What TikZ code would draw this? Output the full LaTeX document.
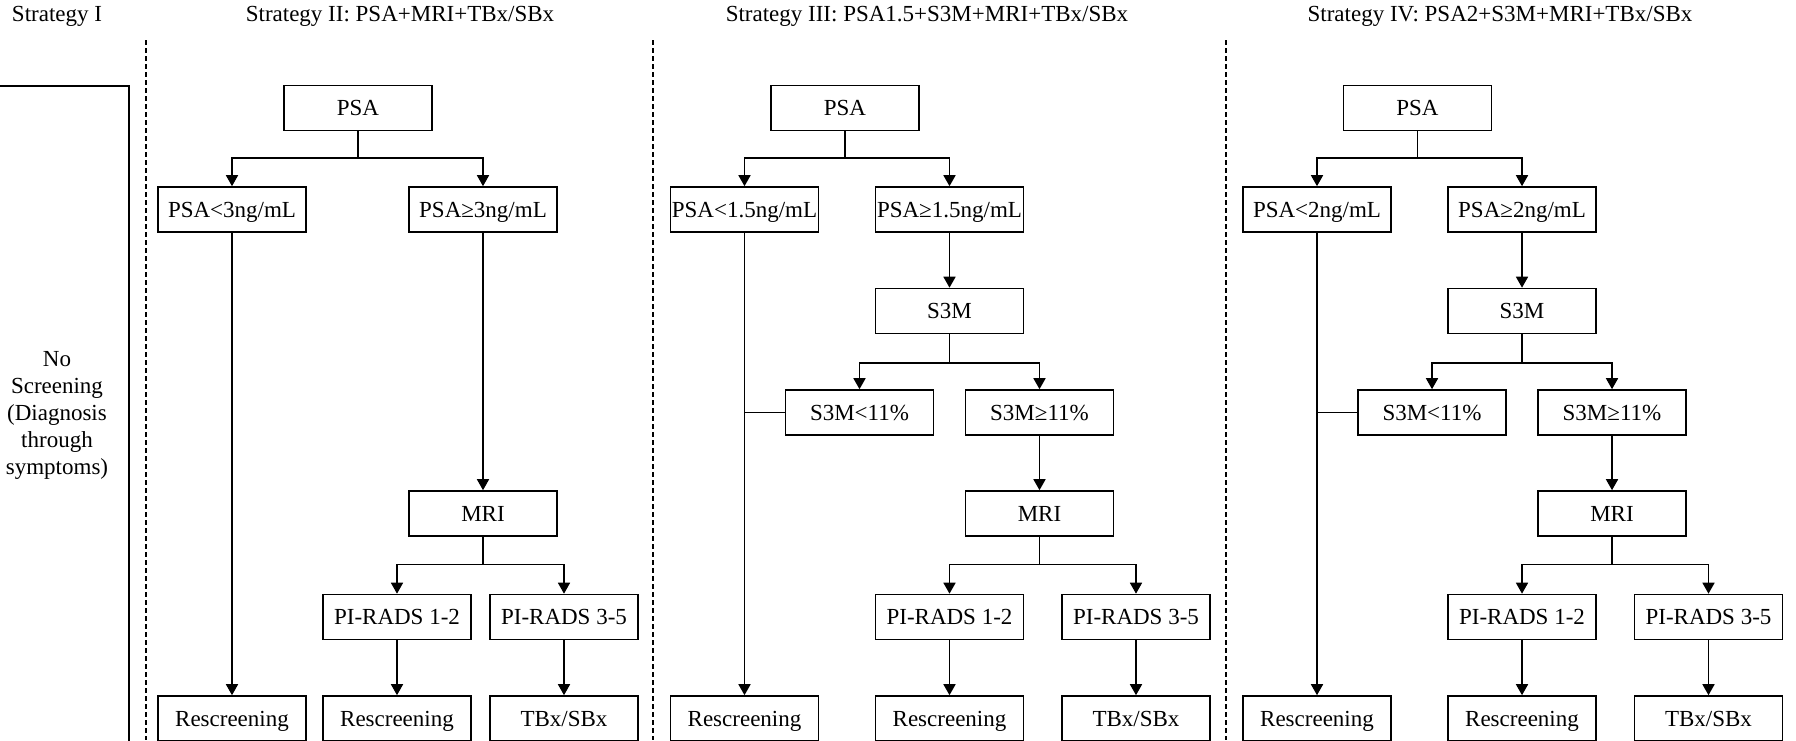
\documentclass[tikz,border=0pt]{standalone}
\usepackage{fontspec}
\setmainfont{Liberation Serif}
\usetikzlibrary{arrows.meta}

\begin{document}
\begin{tikzpicture}[x=1pt, y=-1pt, >={Triangle[width=12pt, length=11pt]}, line width=1.6pt,
    font=\fontsize{23}{27}\selectfont,
    box/.style={draw, minimum width=148pt, minimum height=45pt, inner sep=0pt, text height=19pt, text depth=4pt}]
      \useasboundingbox (0,0) rectangle (1796,740);
      \clip (0,0) rectangle (1796,740);

      % Titles and separators
      \node (title1) at (57,16) {Strategy I};
      \node (title2) at (400,16) {Strategy II: PSA+MRI+TBx/SBx};
      \node (title3) at (927,16) {Strategy III: PSA1.5+S3M+MRI+TBx/SBx};
      \node (title4) at (1500,16) {Strategy IV: PSA2+S3M+MRI+TBx/SBx};
      \draw[dash pattern=on 5pt off 3pt, line width=1.3pt] (146,40) -- (146,740);
      \draw[dash pattern=on 5pt off 3pt, line width=1.3pt] (653,40) -- (653,740);
      \draw[dash pattern=on 5pt off 3pt, line width=1.3pt] (1226,40) -- (1226,740);

      % Strategy I
      \node[draw, minimum width=144pt, minimum height=658pt, inner sep=0pt, align=center] (none) at (57,415)
        {No\\Screening\\(Diagnosis\\through\\symptoms)};

      % Strategy II nodes
      \node[box] (psa2) at (358,108) {PSA};
      \node[box] (low2) at (232,209.5) {PSA<3ng/mL};
      \node[box, right of=low2, node distance=251pt] (high2) {PSA≥3ng/mL};
      \node[box] (mri2) at (483,513.5) {MRI};
      \node[box] (pirlow2) at (397,617) {PI-RADS 1-2};
      \node[box] (pirhigh2) at (564,617) {PI-RADS 3-5};
      \node[box] (resc2) at (232,718.5) {Rescreening};
      \node[box] (rescb2) at (397,718.5) {Rescreening};
      \node[box] (biopsy2) at (564,718.5) {TBx/SBx};

      % Strategy II transitions
      \draw[->] (psa2.south) -- ++(0,26.5) -| (low2.north);
      \draw[->] (psa2.south) -- ++(0,26.5) -| (high2.north);
      \draw[->] (low2) -- (resc2);
      \draw[->] (high2) -- (mri2);
      \draw[->] (mri2.south) -- ++(0,27.5) -| (pirlow2.north);
      \draw[->] (mri2.south) -- ++(0,27.5) -| (pirhigh2.north);
      \draw[->] (pirlow2) -- (rescb2);
      \draw[->] (pirhigh2) -- (biopsy2);

      % Strategy III nodes
      \node[box] (psa3) at (845,108) {PSA};
      \node[box] (low3) at (744.5,209.5) {PSA<1.5ng/mL};
      \node[box] (high3) at (949.5,209.5) {PSA≥1.5ng/mL};
      \node[box] (s3m3) at (949.5,311) {S3M};
      \node[box] (s3low3) at (859.5,412.5) {S3M<11\%};
      \node[box] (s3high3) at (1039.5,412.5) {S3M≥11\%};
      \node[box] (mri3) at (1039.5,513.5) {MRI};
      \node[box] (pirlow3) at (949.5,617) {PI-RADS 1-2};
      \node[box] (pirhigh3) at (1136,617) {PI-RADS 3-5};
      \node[box] (resc3) at (744.5,718.5) {Rescreening};
      \node[box] (rescb3) at (949.5,718.5) {Rescreening};
      \node[box] (biopsy3) at (1136,718.5) {TBx/SBx};

      % Strategy III transitions
      \draw[->] (psa3.south) -- ++(0,26.5) -| (low3.north);
      \draw[->] (psa3.south) -- ++(0,26.5) -| (high3.north);
      \draw[->] (low3) -- (resc3);
      \draw[->] (high3) -- (s3m3);
      \draw[->] (s3m3.south) -- ++(0,28.5) -| (s3low3.north);
      \draw[->] (s3m3.south) -- ++(0,28.5) -| (s3high3.north);
      \draw (s3low3.west) -- (s3low3.west -| low3.south);
      \draw[->] (s3high3) -- (mri3);
      \draw[->] (mri3.south) -- ++(0,27.5) -| (pirlow3.north);
      \draw[->] (mri3.south) -- ++(0,27.5) -| (pirhigh3.north);
      \draw[->] (pirlow3) -- (rescb3);
      \draw[->] (pirhigh3) -- (biopsy3);

      % Strategy IV nodes
      \node[box] (psa4) at (1417.5,108) {PSA};
      \node[box] (low4) at (1317,209.5) {PSA<2ng/mL};
      \node[box] (high4) at (1522,209.5) {PSA≥2ng/mL};
      \node[box] (s3m4) at (1522,311) {S3M};
      \node[box] (s3low4) at (1432,412.5) {S3M<11\%};
      \node[box] (s3high4) at (1612,412.5) {S3M≥11\%};
      \node[box] (mri4) at (1612,513.5) {MRI};
      \node[box] (pirlow4) at (1522,617) {PI-RADS 1-2};
      \node[box] (pirhigh4) at (1708.5,617) {PI-RADS 3-5};
      \node[box] (resc4) at (1317,718.5) {Rescreening};
      \node[box] (rescb4) at (1522,718.5) {Rescreening};
      \node[box] (biopsy4) at (1708.5,718.5) {TBx/SBx};

      % Strategy IV transitions
      \draw[->] (psa4.south) -- ++(0,26.5) -| (low4.north);
      \draw[->] (psa4.south) -- ++(0,26.5) -| (high4.north);
      \draw[->] (low4) -- (resc4);
      \draw[->] (high4) -- (s3m4);
      \draw[->] (s3m4.south) -- ++(0,28.5) -| (s3low4.north);
      \draw[->] (s3m4.south) -- ++(0,28.5) -| (s3high4.north);
      \draw (s3low4.west) -- (s3low4.west -| low4.south);
      \draw[->] (s3high4) -- (mri4);
      \draw[->] (mri4.south) -- ++(0,27.5) -| (pirlow4.north);
      \draw[->] (mri4.south) -- ++(0,27.5) -| (pirhigh4.north);
      \draw[->] (pirlow4) -- (rescb4);
      \draw[->] (pirhigh4) -- (biopsy4);

    \end{tikzpicture}
\end{document}
